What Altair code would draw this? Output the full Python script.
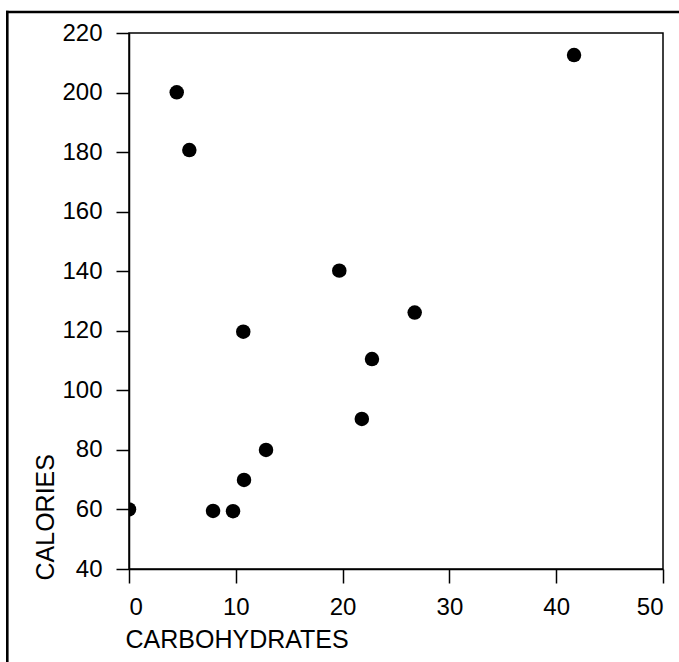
import altair as alt
import pandas as pd

carbohydrates = [0, 4.47, 5.65, 7.87, 9.74, 10.77, 10.7, 12.83, 19.69, 21.8, 22.75, 26.75, 41.67]
calories = [60, 200.1, 180.7, 59.5, 59.4, 69.9, 119.7, 80, 140.2, 90.4, 110.5, 126.1, 212.6]
x_ticks = [0, 10, 20, 30, 40, 50]
y_ticks = [40, 60, 80, 100, 120, 140, 160, 180, 200, 220]

df = pd.DataFrame({"CARBOHYDRATES": carbohydrates, "CALORIES": calories})
one = pd.DataFrame({"a": [0]})

FONT = "Liberation Sans"

points = alt.Chart(df).mark_circle(size=210, color="black", opacity=1, clip=True).encode(
    x=alt.X(
        "CARBOHYDRATES:Q",
        scale=alt.Scale(domain=[0, 50], nice=False, zero=False),
        axis=alt.Axis(
            values=x_ticks,
            title="CARBOHYDRATES",
            grid=False,
            tickSize=14,
            labelPadding=12,
            labelFontSize=24,
            labelFont=FONT,
            labelColor="black",
            titleFont=FONT,
            titleFontSize=25,
            titleFontWeight="normal",
            titleColor="black",
            titleAlign="left",
            titleBaseline="alphabetic",
            titleX=-4,
            titleY=78,
            domainColor="black",
            tickColor="black",
            domainWidth=1.5,
            tickWidth=1.5,
        ),
    ),
    y=alt.Y(
        "CALORIES:Q",
        scale=alt.Scale(domain=[40, 220], nice=False, zero=False),
        axis=alt.Axis(
            values=y_ticks,
            title="CALORIES",
            grid=False,
            tickSize=13,
            labelPadding=14,
            labelFontSize=24,
            labelFont=FONT,
            labelColor="black",
            titleFont=FONT,
            titleFontSize=25,
            titleFontWeight="normal",
            titleColor="black",
            titleAngle=270,
            titleAlign="left",
            titleBaseline="alphabetic",
            titleX=-76,
            titleY=547,
            domainColor="black",
            tickColor="black",
            domainWidth=1.5,
            tickWidth=1.5,
        ),
    ),
)

frame_left = alt.Chart(one).mark_rule(color="black", strokeWidth=2.6).encode(
    x=alt.value(-121.7), y=alt.value(-22.3), y2=alt.value(640)
)
frame_top = alt.Chart(one).mark_rule(color="black", strokeWidth=2.6).encode(
    x=alt.value(-123), x2=alt.value(560), y=alt.value(-21)
)

chart = (
    alt.layer(points, frame_left, frame_top)
    .properties(
        width=534,
        height=536,
        padding={"left": 129, "top": 33, "right": 16, "bottom": 93},
        autosize="none",
        background="white",
    )
    .configure_view(stroke="black", strokeWidth=1.5)
)

chart.save("out.html", embed_options={"renderer": "svg", "actions": False})
